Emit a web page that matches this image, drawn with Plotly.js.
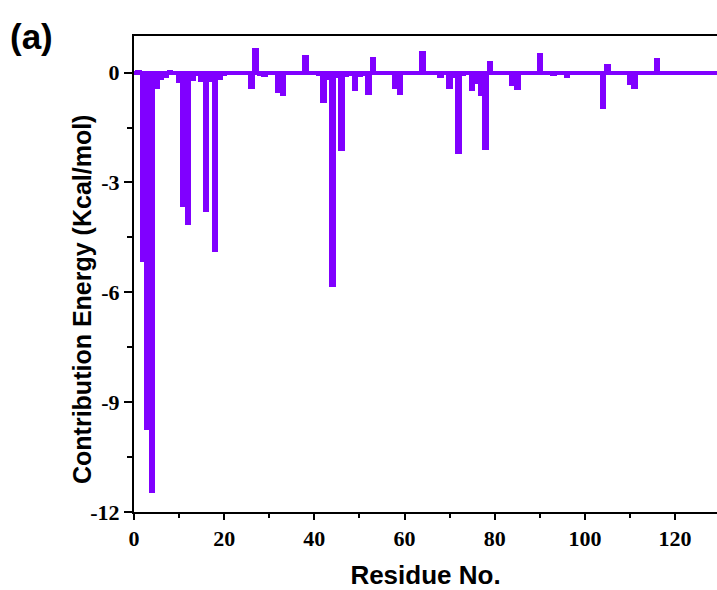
<!DOCTYPE html>
<html>
<head>
<meta charset="utf-8">
<script src="https://cdn.plot.ly/plotly-3.0.1.min.js"></script>
<style>html,body{margin:0;padding:0;background:#fff;}#chart{width:717px;height:590px;}</style>
</head>
<body>
<div id="chart"></div>
<script>
// Residue numbers
const residues = [
  1,2,3,4,5,6,7,8,9,10,11,12,13,14,15,16,17,18,19,20,
  21,22,23,24,25,26,27,28,29,30,31,32,33,34,35,36,37,38,39,40,
  41,42,43,44,45,46,47,48,49,50,51,52,53,54,55,56,57,58,59,60,
  61,62,63,64,65,66,67,68,69,70,71,72,73,74,75,76,77,78,79,80,
  81,82,83,84,85,86,87,88,89,90,91,92,93,94,95,96,97,98,99,100,
  101,102,103,104,105,106,107,108,109,110,111,112,113,114,115,116,117,118,119,120,
  121,122,123,124,125,126,127,128,129
];
// Contribution energy (Kcal/mol) per residue
const energy = [
  0.07,-5.17,-9.77,-11.47,-0.45,-0.20,-0.15,0.07,-0.05,-0.27,
  -3.67,-4.17,-0.22,-0.08,-0.25,-3.80,-0.25,-4.91,-0.20,-0.10,
  0.05,-0.02,0.00,0.03,-0.02,-0.45,0.67,-0.10,-0.13,-0.02,
  0.00,-0.55,-0.64,0.05,0.05,0.00,0.02,0.47,-0.05,-0.05,
  -0.08,-0.82,-0.20,-5.86,-0.15,-2.15,-0.13,-0.10,-0.49,-0.12,
  -0.10,-0.60,0.42,-0.05,-0.05,-0.02,-0.03,-0.45,-0.62,0.05,
  0.03,0.00,0.02,0.58,0.00,-0.02,-0.03,-0.15,-0.05,-0.46,
  -0.15,-2.23,-0.10,-0.05,-0.50,-0.30,-0.64,-2.10,0.33,-0.03,
  -0.02,-0.03,-0.05,-0.37,-0.48,0.05,0.00,0.00,0.02,0.54,
  0.00,-0.03,-0.10,-0.03,-0.05,-0.15,-0.07,-0.07,-0.03,-0.03,
  -0.03,-0.02,-0.03,-1.00,0.24,0.00,-0.02,-0.02,-0.03,-0.33,
  -0.44,-0.02,0.00,0.00,0.02,0.40,-0.05,-0.05,-0.03,-0.02,
  0.03,0.00,-0.02,-0.02,0.00,-0.02,-0.03,-0.02,-0.02
];
const xTicks = [0,20,40,60,80,100,120];
const yTicks = [0,-3,-6,-9,-12];

const purple = '#8000FF';
const tickFont = {family:'Liberation Serif', size:22, weight:700, color:'#000'};
const titleFont = {family:'Liberation Sans', size:25, weight:700, color:'#000'};

const trace = {
  type:'bar', x:residues, y:energy, width:1.45,
  marker:{color:purple, line:{width:0}},
  hoverinfo:'x+y'
};

const layout = {
  width:717, height:590,
  margin:{l:134, r:0, t:36, b:78},
  paper_bgcolor:'#ffffff', plot_bgcolor:'#ffffff',
  showlegend:false,
  bargap:0,
  xaxis:{
    range:[0,129.3], tickvals:xTicks, ticktext:xTicks.map(String),
    showgrid:false, zeroline:false,
    showline:true, linecolor:'#000', linewidth:2, mirror:true,
    ticks:'outside', ticklen:6, tickwidth:2, tickcolor:'#000',
    minor:{dtick:10, tick0:0, ticks:'outside', ticklen:4, tickwidth:2, tickcolor:'#000', showgrid:false},
    tickfont:tickFont,
    title:{text:'Residue No.', font:Object.assign({}, titleFont, {size:26}), standoff:16}
  },
  yaxis:{
    range:[-12,1.0], tickvals:yTicks, ticktext:yTicks.map(String),
    showgrid:false,
    zeroline:true, zerolinecolor:purple, zerolinewidth:4,
    showline:true, linecolor:'#000', linewidth:2,
    ticks:'outside', ticklen:8, tickwidth:2, tickcolor:'#000',
    minor:{dtick:1.5, tick0:0, ticks:'outside', ticklen:5, tickwidth:2, tickcolor:'#000', showgrid:false},
    tickfont:tickFont
  },
  annotations:[
    {
      text:'Contribution Energy (Kcal/mol)', xref:'paper', yref:'paper',
      x:(82-134)/583, y:(512-300)/476, xanchor:'center', yanchor:'middle',
      textangle:-90, showarrow:false, font:titleFont
    },
    {
      text:'(a)', xref:'paper', yref:'paper',
      x:(8-134)/583, y:1+(36-15)/476, xanchor:'left', yanchor:'top',
      showarrow:false,
      font:{family:'Liberation Sans', size:35, weight:700, color:'#000'}
    }
  ]
};

Plotly.newPlot('chart', [trace], layout, {displayModeBar:false, staticPlot:true});
</script>
</body>
</html>
